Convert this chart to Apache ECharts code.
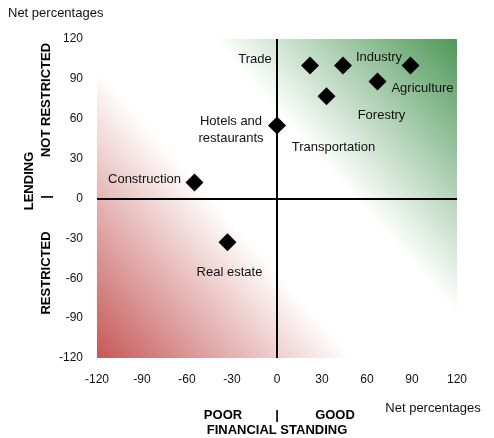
<!DOCTYPE html>
<html>
<head>
<meta charset="utf-8">
<script src="https://cdn.jsdelivr.net/npm/echarts@6/dist/echarts.min.js"></script>
<style>
  html, body { margin: 0; padding: 0; background: #fff; }
  #chart { width: 494px; height: 438px; }
</style>
</head>
<body>
<div id="chart"></div>
<script>
// sectors: financial standing (x) vs lending (y), net percentages
var sectors = ['Trade', 'Industry', 'Agriculture', 'Forestry', 'Transportation', 'Hotels and\nrestaurants', 'Construction', 'Real estate'];
var financial = [22, 44, 89, 67, 33, 0, -55, -33];
var lending = [100, 100, 100, 88, 77, 55, 12, -33];
var tickLabels = [-120, -90, -60, -30, 0, 30, 60, 90, 120];

// label offsets (px) from each marker
var labelOffsets = [[-55, -6], [36, -8], [12, 23], [4, 34], [7, 51], [-46, 5], [-50, -3], [2, 30]];

var font = 'Liberation Sans, Arial, sans-serif';
var myChart = echarts.init(document.getElementById('chart'));

var points = sectors.map(function (name, i) {
  return {
    name: name,
    value: [financial[i], lending[i]],
    label: { offset: labelOffsets[i] }
  };
});

var G = { left: 97, top: 39, width: 360, height: 319 };

var option = {
  animation: false,
  grid: { left: G.left, top: G.top, width: G.width, height: G.height },
  xAxis: {
    type: 'value',
    min: tickLabels[0],
    max: tickLabels[tickLabels.length - 1],
    interval: 30,
    axisLine: { show: false },
    axisTick: { show: false },
    splitLine: { show: false },
    axisLabel: { color: '#111', fontSize: 12, fontFamily: font, margin: 16 }
  },
  yAxis: {
    type: 'value',
    min: tickLabels[0],
    max: tickLabels[tickLabels.length - 1],
    interval: 30,
    axisLine: { show: false },
    axisTick: { show: false },
    splitLine: { show: false },
    axisLabel: { color: '#111', fontSize: 12, fontFamily: font, margin: 14 }
  },
  graphic: [
    {
      type: 'rect', z: -10, silent: true,
      shape: { x: G.left, y: G.top, width: G.width, height: G.height },
      style: {
        fill: new echarts.graphic.LinearGradient(0, 1, 1, 0, [
          { offset: 0, color: 'rgb(197,88,86)' },
          { offset: 0.4, color: '#ffffff' },
          { offset: 0.62, color: '#ffffff' },
          { offset: 1, color: 'rgb(78,152,88)' }
        ])
      }
    },
    { type: 'text', x: 8, y: 13, style: { text: 'Net percentages', font: '13px ' + font, fill: '#111', textVerticalAlign: 'middle' } },
    { type: 'text', x: 433, y: 408, style: { text: 'Net percentages', font: '13px ' + font, fill: '#111', textAlign: 'center', textVerticalAlign: 'middle' } },
    { type: 'text', x: 223, y: 415, style: { text: 'POOR', font: 'bold 13px ' + font, fill: '#000', textAlign: 'center', textVerticalAlign: 'middle' } },
    { type: 'text', x: 277, y: 415, style: { text: '|', font: 'bold 13px ' + font, fill: '#000', textAlign: 'center', textVerticalAlign: 'middle' } },
    { type: 'text', x: 335, y: 415, style: { text: 'GOOD', font: 'bold 13px ' + font, fill: '#000', textAlign: 'center', textVerticalAlign: 'middle' } },
    { type: 'text', x: 277, y: 430, style: { text: 'FINANCIAL STANDING', font: 'bold 13px ' + font, fill: '#000', textAlign: 'center', textVerticalAlign: 'middle' } },
    { type: 'text', x: 29, y: 181, rotation: Math.PI / 2, style: { text: 'LENDING', font: 'bold 13px ' + font, fill: '#000', textAlign: 'center', textVerticalAlign: 'middle' } },
    { type: 'text', x: 46, y: 100, rotation: Math.PI / 2, style: { text: 'NOT RESTRICTED', font: 'bold 13px ' + font, fill: '#000', textAlign: 'center', textVerticalAlign: 'middle' } },
    { type: 'text', x: 46, y: 197, rotation: Math.PI / 2, style: { text: '|', font: 'bold 13px ' + font, fill: '#000', textAlign: 'center', textVerticalAlign: 'middle' } },
    { type: 'text', x: 46, y: 273, rotation: Math.PI / 2, style: { text: 'RESTRICTED', font: 'bold 13px ' + font, fill: '#000', textAlign: 'center', textVerticalAlign: 'middle' } }
  ],
  series: [
    {
      type: 'scatter',
      symbol: 'diamond',
      symbolSize: 18,
      itemStyle: { color: '#000', opacity: 1 },
      label: {
        show: true,
        position: 'inside',
        formatter: '{b}',
        color: '#111',
        fontSize: 13,
        fontFamily: font,
        align: 'center',
        verticalAlign: 'middle',
        lineHeight: 17
      },
      data: points,
      markLine: {
        silent: true,
        symbol: 'none',
        label: { show: false },
        lineStyle: { color: '#000', width: 2, type: 'solid', opacity: 1 },
        data: [{ xAxis: 0 }, { yAxis: 0 }]
      }
    }
  ]
};
myChart.setOption(option);
</script>
</body>
</html>
